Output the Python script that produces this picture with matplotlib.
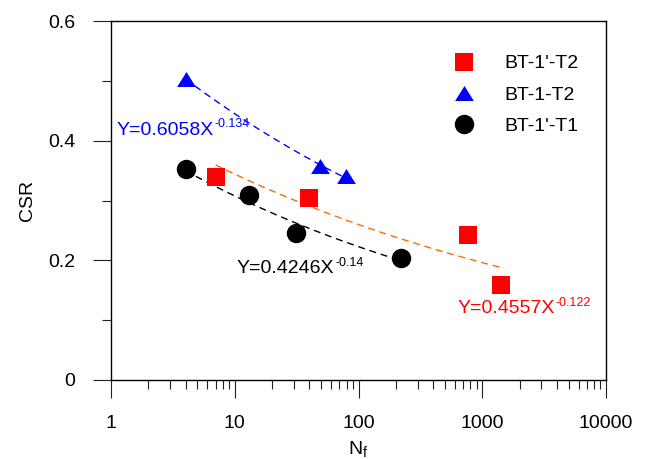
import numpy as np
import matplotlib
matplotlib.use("Agg")
import matplotlib.pyplot as plt
from matplotlib.ticker import LogLocator, FixedLocator, NullFormatter, FixedFormatter

plt.rcParams["font.family"] = ["Liberation Sans", "DejaVu Sans"]
plt.rcParams["mathtext.fontset"] = "custom"
plt.rcParams["mathtext.rm"] = "Liberation Sans"
plt.rcParams["mathtext.it"] = "Liberation Sans:italic"

# Cyclic tests: number of cycles to failure vs cyclic stress ratio
red_label = "BT-1'-T2"
red_n = [7, 40, 760, 1430]
red_csr = [0.340, 0.305, 0.242, 0.158]
red_fit = (0.4557, -0.122)

blue_label = "BT-1-T2"
blue_n = [4, 49, 79]
blue_csr = [0.503, 0.357, 0.341]
blue_fit = (0.6058, -0.134)

black_label = "BT-1'-T1"
black_n = [4, 13, 31, 220]
black_csr = [0.352, 0.309, 0.245, 0.204]
black_fit = (0.4246, -0.14)

x_ticks = [1, 10, 100, 1000, 10000]
x_ticklabels = ["1", "10", "100", "1000", "10000"]
y_ticks = [0, 0.2, 0.4, 0.6]
y_ticklabels = ["0", "0.2", "0.4", "0.6"]

fig = plt.figure(figsize=(6.48, 4.59), dpi=100)
ax = fig.add_axes([111 / 648, 79 / 459, 495 / 648, 359 / 459])

tri = [(0, 0.8), (-1, -0.8), (1, -0.8)]
dash = (0, (5, 3.5))

series = [
    (red_n, red_csr, red_fit, "s", 13, "#FF0000", "#FF6A00", red_label),
    (blue_n, blue_csr, blue_fit, tri, 13.5, "#0000FF", "#0000FF", blue_label),
    (black_n, black_csr, black_fit, "o", 14, "#000000", "#000000", black_label),
]

for n, csr, (a, b), mk, ms, col, lcol, lab in series:
    nn = np.geomspace(min(n), max(n), 200)
    ax.plot(nn, a * nn ** b, linestyle=dash, color=lcol, lw=1.0, zorder=2)
    ax.plot(n, csr, linestyle="none", marker=mk, markersize=ms, color=col,
            markeredgewidth=0, label=lab, zorder=3)

ax.set_xscale("log")
ax.set_xlim(1, 10000)
ax.set_ylim(0, 0.6)

ax.xaxis.set_major_locator(FixedLocator(x_ticks))
ax.xaxis.set_major_formatter(FixedFormatter(x_ticklabels))
ax.xaxis.set_minor_locator(LogLocator(base=10, subs=np.arange(2, 10)))
ax.xaxis.set_minor_formatter(NullFormatter())
ax.yaxis.set_major_locator(FixedLocator(y_ticks))
ax.yaxis.set_major_formatter(FixedFormatter(y_ticklabels))
ax.yaxis.set_minor_locator(FixedLocator([0.1, 0.3, 0.5]))

ax.tick_params(axis="both", which="major", direction="out", length=13, width=0.8,
               labelsize=14, color="#222222")
ax.tick_params(axis="both", which="minor", direction="out", length=6.5, width=0.8,
               color="#222222")
ax.tick_params(axis="x", which="major", pad=12)
ax.tick_params(axis="y", which="major", pad=12.5)
for s in ax.spines.values():
    s.set_linewidth(1.0)

ax.set_xlabel(r"$\mathrm{N_f}$", fontsize=14, labelpad=5)
ax.set_ylabel("CSR", fontsize=14, labelpad=9)


def equation(x, y, a, b, color):
    main = ax.text(x, y, f"Y={a:.4f}X", color=color, fontsize=14,
                   ha="left", va="baseline", zorder=4)
    ax.annotate(f"{b:g}", xy=(1, 1), xycoords=main, xytext=(0.5, 2.5),
                textcoords="offset points", color=color, fontsize=9,
                ha="left", va="top", zorder=4)


equation(1.11, 0.410, *blue_fit, "#0000FF")
equation(10.4, 0.178, *black_fit, "#000000")
equation(628, 0.112, *red_fit, "#FF0000")

ax.legend(loc="upper left", bbox_to_anchor=(437 / 648, 1 - 47 / 459),
          bbox_transform=fig.transFigure, frameon=False, fontsize=14,
          handlelength=2.0, handletextpad=1.05, labelspacing=0.71,
          borderaxespad=0, numpoints=1)

fig.savefig("out.png", dpi=100)
